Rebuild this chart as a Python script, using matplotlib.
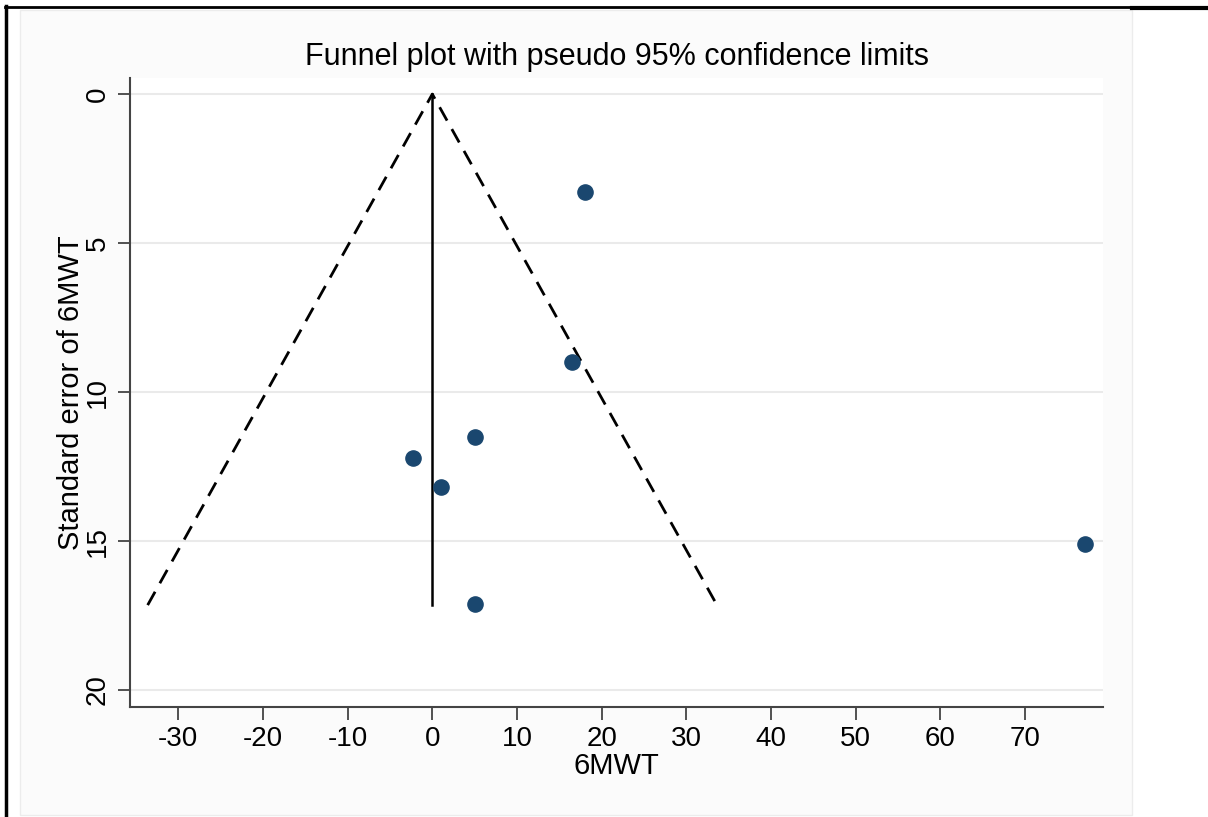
import numpy as np
import matplotlib
matplotlib.use("Agg")
import matplotlib.pyplot as plt
from matplotlib.lines import Line2D
from matplotlib.patches import Rectangle

plt.rcParams['font.family'] = ['Liberation Sans', 'DejaVu Sans']
plt.rcParams['axes.unicode_minus'] = False

# ---------- data ----------
effect = [18.0, 16.5, 5.0, -2.3, 1.0, 77.1, 5.0]      # 6MWT
se     = [3.3, 9.0, 11.5, 12.2, 13.2, 15.1, 17.1]      # standard error
x_ticks = [-30, -20, -10, 0, 10, 20, 30, 40, 50, 60, 70]
y_ticks = [0, 5, 10, 15, 20]
pooled = 0.0
se_max = 17.15
# --------------------------

fig = plt.figure(figsize=(12.08, 8.17), dpi=100)

# outer frame, like the screenshot
fig.patches.append(Rectangle((20/1208, 1-815/817), (1132-20)/1208, (815-10)/817,
                             transform=fig.transFigure, facecolor='#fbfbfb',
                             edgecolor='#ececec', lw=1, zorder=-5))
fig.lines.append(Line2D([6/1208, 6/1208], [0, 1-6/817], transform=fig.transFigure,
                        color='k', lw=2.5))
fig.lines.append(Line2D([5/1208, 1132/1208], [1-7/817, 1-7/817], transform=fig.transFigure,
                        color='k', lw=2))
fig.lines.append(Line2D([1132/1208, 1], [1-7.5/817, 1-7.5/817], transform=fig.transFigure,
                        color='k', lw=3))

ax = fig.add_axes([130/1208, 1-707/817, (1103-130)/1208, (707-78)/817])
ax.set_facecolor('white')

ax.set_xlim(-35.7, 79.2)
ax.set_ylim(20.57, -0.54)

# grid
for yv in y_ticks:
    ax.axhline(yv, color='#eaeaea', lw=1.5, zorder=0)

# funnel
ax.plot([pooled - 1.96*se_max, pooled, pooled + 1.96*se_max], [se_max, 0, se_max],
        color='k', lw=2.0, ls=(0, (5.5, 3.5)), zorder=2)
ax.plot([pooled, pooled], [0, se_max], color='k', lw=1.8, zorder=2)

ax.scatter(effect, se, s=120, color='#1a476f', zorder=3)

ax.spines['top'].set_visible(False)
ax.spines['right'].set_visible(False)
ax.spines['left'].set_color('#444444')
ax.spines['bottom'].set_color('#444444')
ax.spines['left'].set_linewidth(1.5)
ax.spines['bottom'].set_linewidth(1.5)

ax.set_xticks(x_ticks)
ax.set_yticks(y_ticks)
ax.tick_params(axis='both', labelsize=20, length=9, width=1.3, color='#444444', pad=5)
for lab in ax.get_yticklabels():
    lab.set_rotation(90)
    lab.set_va('center')

ax.set_xlabel('6MWT', fontsize=21, labelpad=0)
ax.set_ylabel('Standard error of 6MWT', fontsize=21, labelpad=0)
fig.text(617/1208, 1-57/817, 'Funnel plot with pseudo 95% confidence limits',
         ha='center', va='center', fontsize=22)

fig.savefig('out.png', dpi=100)
